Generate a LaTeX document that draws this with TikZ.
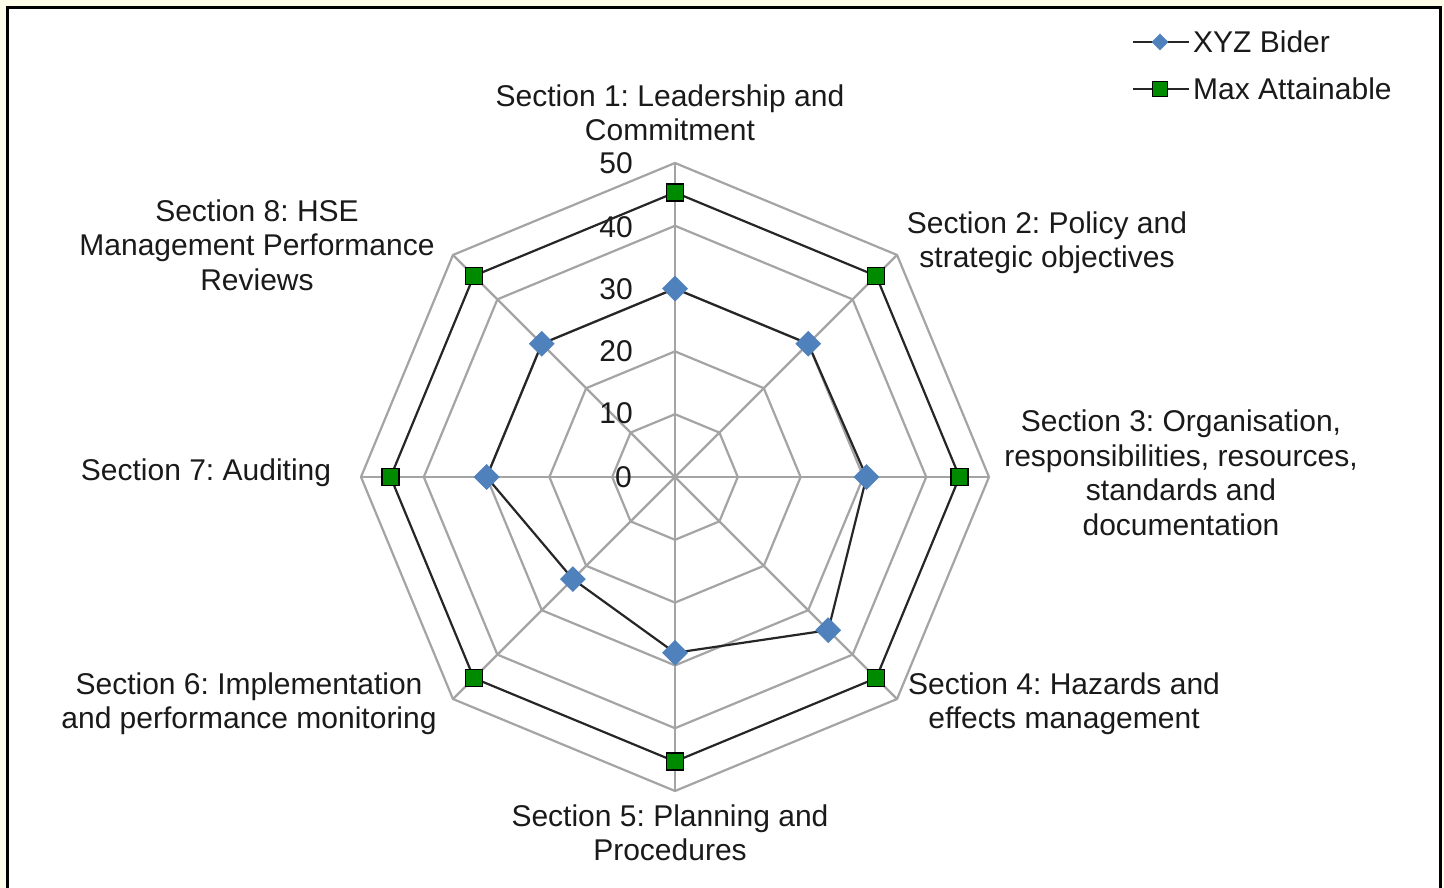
\documentclass[tikz,border=0pt]{standalone}
\usepackage{fontspec}
\setmainfont{Liberation Sans}
\usetikzlibrary{calc,shapes.geometric}
\definecolor{bgy}{HTML}{FEFDEA}
\definecolor{gridc}{HTML}{A4A4A4}
\definecolor{dblue}{HTML}{4F81BD}
\definecolor{dgreen}{HTML}{008A00}
\definecolor{txt}{HTML}{1A1A1A}
\definecolor{serc}{HTML}{262626}
\frenchspacing
\begin{document}
\frenchspacing
\begin{tikzpicture}[x=1pt,y=1pt,
  font=\fontsize{30}{34.5}\selectfont\frenchspacing,
  gridline/.style={draw=gridc, line width=2.2pt},
  serline/.style={draw=serc, line width=2.2pt, line join=miter},
  xyzmark/.style={diamond, fill=dblue, inner sep=0pt, minimum width=26pt, minimum height=26pt},
  maxmark/.style={rectangle, draw=black, fill=dgreen, line width=1.6pt, inner sep=0pt, minimum size=17pt},
  xyzleg/.style={diamond, fill=dblue, inner sep=0pt, minimum width=17pt, minimum height=17pt},
  maxleg/.style={rectangle, draw=black, fill=dgreen, line width=1.4pt, inner sep=0pt, minimum size=15pt},
  lbl/.style={align=center, text=txt, inner sep=0pt},
  ticklbl/.style={anchor=east, text=txt, inner sep=0pt},
  legtxt/.style={anchor=west, text=txt, inner sep=0pt}]
% canvas
\useasboundingbox (0,0) rectangle (1444,888);
\fill[bgy] (0,0) rectangle (1444,888);
\fill[white] (7,-10) rectangle (1440,880);
\draw[black, line width=3pt] (7,-10) -- (7,880) -- (1440,880) -- (1440,-10);
% radar
\begin{scope}[shift={(675,411)}]
  \coordinate (C) at (0,0);
  % rings
  \foreach \r in {10,20,30,40,50}{
    \draw[gridline] (90:{\r*6.28}) \foreach \k in {1,...,7}{ -- ({90-45*\k}:{\r*6.28}) } -- cycle;
  }
  % spokes
  \foreach \k in {0,...,7}{
    \coordinate (s\k) at ({90-45*\k}:{50*6.28});
    \draw[gridline] (C) -- (s\k);
  }
  % tick labels
  \node[ticklbl] (t50) at (-42,314) {50};
  \node[ticklbl] (t40) at (-42,250) {40};
  \node[ticklbl] (t30) at (-42,188) {30};
  \node[ticklbl] (t20) at (-42,126) {20};
  \node[ticklbl] (t10) at (-42,64) {10};
  \node[ticklbl] (t0) at (-43,0) {0};
  % data coordinates
  \foreach \k/\v in {1/30,2/30,3/30.5,4/34.5,5/28,6/23,7/30,8/30}{
    \coordinate (x\k) at ({90-45*(\k-1)}:{\v*6.28});
    \coordinate (m\k) at ({90-45*(\k-1)}:{45.3*6.28});
  }
  \draw[serline] (m1) -- (m2) -- (m3) -- (m4) -- (m5) -- (m6) -- (m7) -- (m8) -- cycle;
  \draw[serline] (x1) -- (x2) -- (x3) -- (x4) -- (x5) -- (x6) -- (x7) -- (x8) -- cycle;
  \foreach \k in {1,...,8}{
    \node[maxmark] (M\k) at (m\k) {};
    \node[xyzmark] (X\k) at (x\k) {};
  }
\end{scope}
% axis labels
\node[lbl] (l1) at (670,775) {Section 1: Leadership and\\Commitment};
\node[lbl] (l2) at (1047,645) {Section 2: Policy and\\strategic objectives};
\node[lbl] (l3) at (1181,415) {Section 3: Organisation,\\responsibilities, resources,\\standards and\\documentation};
\node[lbl] (l4) at (1064,184) {Section 4: Hazards and\\effects management};
\node[lbl] (l5) at (670,55) {Section 5: Planning and\\Procedures};
\node[lbl] (l6) at (249,184) {Section 6: Implementation\\and performance monitoring};
\node[lbl] (l7) at (206,415) {Section 7: Auditing};
\node[lbl] (l8) at (257,643) {Section 8: HSE\\Management Performance\\Reviews};
% legend
\coordinate (a1) at (1133,846);
\coordinate (b1) at (1189,846);
\coordinate (a2) at (1133,799);
\coordinate (b2) at (1189,799);
\draw[serline] (a1) -- (b1);
\draw[serline] (a2) -- (b2);
\node[xyzleg] (LX) at (1160,846) {};
\node[maxleg] (LM) at (1160,799) {};
\node[legtxt] (LT1) at (1193,846) {XYZ Bider};
\node[legtxt] (LT2) at (1193,799) {Max Attainable};
\end{tikzpicture}
\end{document}
